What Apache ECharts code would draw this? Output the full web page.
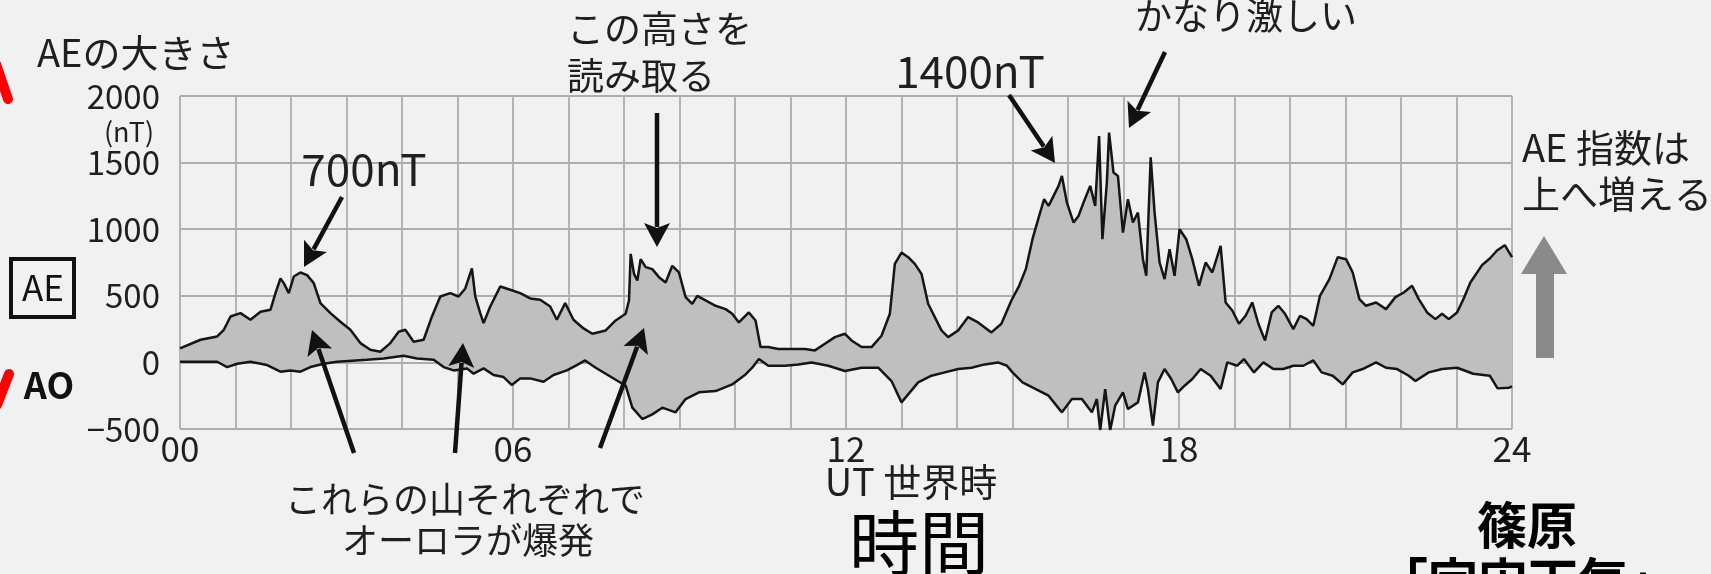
<!DOCTYPE html>
<html>
<head>
<meta charset="utf-8">
<title>AE指数</title>
<script src="https://cdn.jsdelivr.net/npm/echarts@6/dist/echarts.min.js"></script>
<style>
  html, body { margin: 0; padding: 0; background: #f1f1f1; }
  #chart { width: 1711px; height: 574px; }
</style>
</head>
<body>
<div id="chart"></div>
<script>
// upper envelope of the AE trace (UT hours, nT)
const upperHours = [
  0.0, 0.37, 0.67, 0.79, 0.91, 1.09, 1.27, 1.45, 1.63, 1.72,
  1.81, 1.87, 1.96, 2.05, 2.17, 2.29, 2.41, 2.53, 2.71, 2.89,
  3.07, 3.25, 3.43, 3.61, 3.79, 3.94, 4.06, 4.21, 4.39, 4.54,
  4.69, 4.87, 5.02, 5.14, 5.26, 5.32, 5.41, 5.47, 5.59, 5.77,
  5.95, 6.13, 6.31, 6.49, 6.67, 6.79, 6.94, 7.09, 7.27,
  7.43, 7.67, 7.85, 8.03, 8.09, 8.12, 8.18, 8.24, 8.30, 8.39,
  8.51, 8.63, 8.75, 8.87, 8.99, 9.11, 9.23, 9.32, 9.47, 9.65,
  9.83, 9.95, 10.07, 10.25, 10.37, 10.46, 10.60, 10.78, 11.02, 11.26,
  11.44, 11.62, 11.80, 11.98, 12.10, 12.28, 12.46, 12.64, 12.79, 12.88,
  13.00, 13.12, 13.24, 13.36, 13.48, 13.60, 13.72, 13.84, 14.02, 14.20,
  14.38, 14.62, 14.80, 14.98,
  15.12, 15.24, 15.36, 15.48, 15.57, 15.65, 15.74, 15.83, 15.89, 15.98,
  16.10, 16.19, 16.28, 16.40, 16.49, 16.56, 16.62, 16.70, 16.74, 16.82,
  16.90, 16.99, 17.08, 17.17, 17.26, 17.35, 17.41, 17.49, 17.56, 17.65,
  17.74, 17.83, 17.92, 18.01, 18.13, 18.24, 18.36, 18.48, 18.60, 18.75,
  18.84, 18.96, 19.08, 19.20, 19.32, 19.43, 19.55, 19.67, 19.79, 19.91,
  20.06, 20.18, 20.30, 20.42, 20.54, 20.71, 20.86, 21.01, 21.13, 21.25,
  21.37, 21.55, 21.73, 21.90, 22.05, 22.20, 22.32, 22.47, 22.62, 22.74,
  22.86, 23.01, 23.13, 23.25, 23.46, 23.60, 23.73, 23.87, 24.0
]
const upperValues = [
  105, 170, 195, 245, 345, 370, 320, 380, 395, 520,
  630, 595, 520, 645, 675, 655, 595, 445, 370, 305,
  245, 145, 95, 80, 145, 230, 245, 155, 170, 345,
  495, 520, 495, 555, 705, 495, 370, 295, 420, 570,
  545, 520, 480, 470, 420, 320, 445, 320, 255,
  215, 240, 315, 365, 465, 815, 665, 615, 775, 715,
  700, 640, 600, 725, 675, 490, 440, 500, 465, 425,
  400, 365, 300, 375, 315, 115, 115, 100, 100, 100,
  90, 140, 190, 215, 165, 115, 115, 200, 365, 740,
  825, 790, 740, 665, 440, 340, 240, 190, 240, 340,
  300, 225, 290, 465,
  575, 700, 925, 1100, 1225, 1175, 1250, 1325, 1400, 1200,
  1050, 1100, 1200, 1325, 1175, 1700, 925, 1350, 1725, 1425,
  1400, 975, 1225, 1050, 1125, 775, 650, 1540, 1125, 750,
  625, 850, 650, 1000, 925, 775, 575, 750, 675, 875,
  450, 390, 290, 350, 450, 290, 165, 375, 425, 365,
  250, 350, 325, 275, 500, 625, 790, 775, 675, 475,
  425, 450, 400, 490, 525, 575, 475, 375, 325, 365,
  325, 375, 480, 600, 730, 780, 840, 880, 790
]

// lower envelope of the AE trace (UT hours, nT)
const lowerHours = [
  0.0, 0.67, 0.85, 1.03, 1.27, 1.57, 1.81, 1.99, 2.17, 2.35,
  2.59, 2.83, 3.37, 3.67, 4.03, 4.27, 4.57, 4.75, 4.93, 5.17,
  5.29, 5.47, 5.65, 5.83, 5.98, 6.13, 6.31, 6.55, 6.73, 6.97,
  7.15,
  7.30, 7.49, 7.79, 8.03, 8.15, 8.33, 8.51, 8.69, 8.93, 9.11,
  9.35, 9.65, 9.95, 10.19, 10.31, 10.43, 10.60, 10.90, 11.14, 11.38,
  11.68, 11.98, 12.28, 12.58, 12.82, 13.00, 13.12, 13.30, 13.54, 13.78,
  14.02, 14.26, 14.50, 14.74, 14.90,
  15.0, 15.18, 15.42, 15.65, 15.89, 16.07, 16.25, 16.43, 16.52, 16.58,
  16.67, 16.76, 16.85, 16.99, 17.08, 17.26, 17.38, 17.44, 17.53, 17.62,
  17.74, 17.86, 17.98, 18.10, 18.24, 18.39, 18.57, 18.75, 18.87, 19.05,
  19.17, 19.35, 19.52, 19.70, 19.88, 20.06, 20.24, 20.42, 20.57, 20.77,
  20.95, 21.13, 21.31, 21.55, 21.73, 21.93, 22.14, 22.26, 22.50, 22.74,
  23.01, 23.30, 23.60, 23.74, 23.95, 24.0
]
const lowerValues = [
  5, 5, -35, -10, 5, -20, -70, -60, -70, -35,
  -10, 5, 20, 30, 50, 30, 20, -35, -60, -45,
  -85, -45, -95, -110, -170, -120, -120, -145, -95, -60,
  -20,
  15, -40, -115, -175, -340, -425, -390, -340, -375, -275,
  -225, -215, -165, -90, -40, 25, -25, -25, -15, 0,
  -25, -65, -40, -40, -140, -300, -240, -150, -100, -75,
  -50, -40, -15, 0, -25,
  -75, -150, -200, -250, -375, -275, -275, -375, -275, -510,
  -200, -510, -325, -225, -350, -300, -75, -200, -475, -150,
  -50, -125, -225, -175, -125, -50, -100, -200, 0, -25,
  25, -75, 0, -50, -50, -25, -25, 15, -75, -100,
  -165, -75, -50, 0, -40, -50, -100, -140, -75, -50,
  -40, -85, -100, -195, -190, -180
]

const xTickLabels = ['00', '06', '12', '18', '24']
const yTickLabels = ['−500', '0', '500', '1000', '1500', '2000']

const FONT = '"Noto Sans CJK JP", "Noto Sans", sans-serif'
const INK = '#1f1f1f'

const label = (text, x, y, size, opt = {}) => ({
  type: 'text',
  silent: true,
  z: 100,
  style: {
    text, x, y,
    font: `${opt.weight || 'normal'} ${size}px ${FONT}`,
    fill: opt.color || INK,
    align: opt.align || 'center',
    textAlign: opt.align || 'center',
    verticalAlign: opt.va || 'middle',
    textVerticalAlign: opt.va || 'middle'
  }
})

const arrow = (x1, y1, x2, y2) => {
  const a = Math.atan2(y2 - y1, x2 - x1)
  const len = 24, w = 13
  const bx = x2 - len * Math.cos(a), by = y2 - len * Math.sin(a)
  const px = -Math.sin(a) * w, py = Math.cos(a) * w
  return [
    { type: 'line', silent: true, z: 100,
      shape: { x1, y1, x2: bx + 4 * Math.cos(a), y2: by + 4 * Math.sin(a) },
      style: { stroke: '#111', lineWidth: 4.5 } },
    { type: 'polygon', silent: true, z: 100,
      shape: { points: [[x2, y2], [bx + px, by + py], [bx + 5 * Math.cos(a), by + 5 * Math.sin(a)], [bx - px, by - py]] },
      style: { fill: '#111' } }
  ]
}

const chart = echarts.init(document.getElementById('chart'))

chart.setOption({
  backgroundColor: '#f1f1f1',
  animation: false,
  textStyle: { fontFamily: FONT },
  grid: { left: 180, right: 199, top: 96, bottom: 145, outerBoundsMode: 'none' },
  xAxis: {
    type: 'value',
    min: 0, max: 24, interval: 1,
    axisLine: { show: false },
    axisTick: { show: false },
    axisLabel: {
      fontSize: 35, color: INK, margin: 2,
      formatter: v => (v % 6 === 0 ? xTickLabels[v / 6] : '')
    },
    splitLine: { show: true, lineStyle: { color: '#adadad', width: 1.8 } }
  },
  yAxis: {
    type: 'value',
    min: -500, max: 2000, interval: 500,
    axisLine: { show: false },
    axisTick: { show: false },
    axisLabel: {
      fontSize: 33, color: INK, margin: 20,
      formatter: v => yTickLabels[(v + 500) / 500]
    },
    splitLine: { show: true, lineStyle: { color: '#adadad', width: 1.8 } }
  },
  series: [
    {
      // shaded band between the upper and lower traces
      type: 'custom',
      silent: true,
      z: 1,
      data: [[12, 0]],
      renderItem: (params, api) => {
        const pts = upperHours.map((h, i) => api.coord([h, upperValues[i]]))
        for (let i = lowerHours.length - 1; i >= 0; i--) {
          pts.push(api.coord([lowerHours[i], lowerValues[i]]))
        }
        return { type: 'polygon', shape: { points: pts }, style: { fill: '#bfbfbf' } }
      }
    },
    {
      name: 'upper', type: 'line', z: 3,
      data: upperHours.map((h, i) => [h, upperValues[i]]),
      showSymbol: false, silent: true,
      lineStyle: { color: '#151515', width: 2.5 }
    },
    {
      name: 'lower', type: 'line', z: 3,
      data: lowerHours.map((h, i) => [h, lowerValues[i]]),
      showSymbol: false, silent: true,
      lineStyle: { color: '#151515', width: 2.5 }
    }
  ],
  graphic: [
    // red marks cut at the left edge
    { type: 'line', silent: true, z: 100, shape: { x1: -4, y1: 64, x2: 8, y2: 99 },
      style: { stroke: '#ff0000', lineWidth: 10, lineCap: 'round' } },
    { type: 'line', silent: true, z: 100, shape: { x1: 9, y1: 374, x2: -3, y2: 405 },
      style: { stroke: '#ff0000', lineWidth: 10, lineCap: 'round' } },

    label('AEの大きさ', 37, 53, 38, { align: 'left' }),
    label('(nT)', 129, 132, 27),
    { type: 'rect', silent: true, z: 100, shape: { x: 11, y: 259, width: 63, height: 58 },
      style: { fill: 'none', stroke: '#111', lineWidth: 4 } },
    label('AE', 43, 288, 35, { color: '#111' }),
    label('AO', 49, 385, 36, { color: '#111', weight: 'bold' }),

    label('700nT', 364, 169, 44),
    label('この高さを', 567, 29, 37, { align: 'left' }),
    label('読み取る', 567, 76, 37, { align: 'left' }),
    label('1400nT', 970, 71, 44),
    label('かなり激しい', 1135, 16, 37, { align: 'left' }),
    label('AE 指数は', 1522, 148, 38, { align: 'left' }),
    label('上へ増える', 1522, 194, 38, { align: 'left' }),

    label('これらの山それぞれで', 465, 499, 36),
    label('オーロラが爆発', 468, 540, 36),
    label('UT 世界時', 911, 482, 38),
    label('時間', 919, 543, 70, { color: '#000' }),
    label('篠原', 1527, 525, 50, { color: '#000', weight: 'bold' }),
    label('「宇宙天気」', 1528, 556, 50, { color: '#000', weight: 'bold', va: 'top' }),

    // grey "increases upward" arrow
    { type: 'polygon', silent: true, z: 100, shape: { points: [[1544, 236], [1521, 274], [1567, 274]] },
      style: { fill: '#8a8a8a' } },
    { type: 'rect', silent: true, z: 100, shape: { x: 1536, y: 272, width: 18, height: 86 },
      style: { fill: '#8a8a8a' } },

    ...arrow(342, 197, 304, 267),
    ...arrow(657, 113, 657, 247),
    ...arrow(1009, 95, 1055, 163),
    ...arrow(1165, 52, 1129, 128),
    ...arrow(354, 453, 312, 330),
    ...arrow(455, 453, 463, 343),
    ...arrow(600, 448, 644, 328)
  ]
})
</script>
</body>
</html>
